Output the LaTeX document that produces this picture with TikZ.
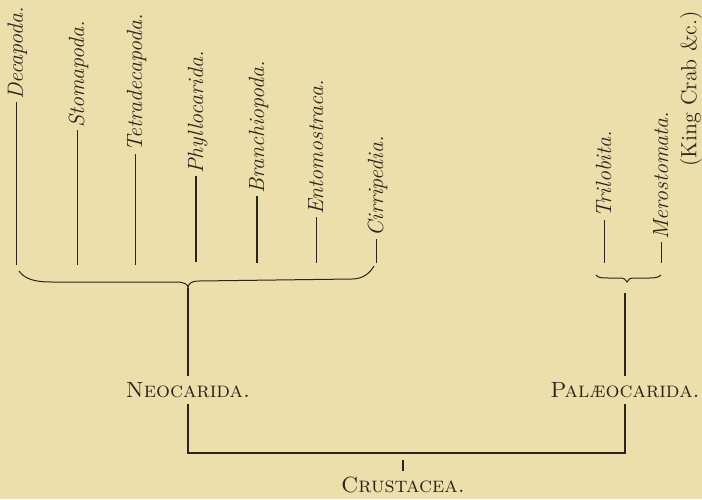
\documentclass[tikz,border=0pt]{standalone}
\definecolor{paper}{RGB}{236,223,172}
\definecolor{ink}{RGB}{42,36,26}
\begin{document}
\begin{tikzpicture}[x=0.5pt, y=-0.5pt, line width=0.5pt, ink,
  font=\fontsize{11}{13}\selectfont,
  taxon/.style={rotate=90, anchor=west, inner sep=0.8pt, text height=7pt, text depth=0pt,
    font=\fontsize{11}{13}\selectfont\itshape},
  group/.style={inner sep=3pt},
  twig/.style={line width=0.5pt},
  stem/.style={line width=0.65pt},
  brace/.style={line width=0.5pt}]
  \useasboundingbox (0,0) rectangle (702,499);
  \fill[paper] (0,0) rectangle (702,499);
  % lower ends of the twigs (on the braces) and upper ends (under the names)
  \coordinate (b1) at (16,265);  \coordinate (t1) at (16,102);
  \coordinate (b2) at (77,265);  \coordinate (t2) at (77,130);
  \coordinate (b3) at (135,265); \coordinate (t3) at (135,154);
  \coordinate (b4) at (196,262); \coordinate (t4) at (196,176);
  \coordinate (b5) at (257,263); \coordinate (t5) at (257,196);
  \coordinate (b6) at (316,263); \coordinate (t6) at (316,217);
  \coordinate (b7) at (376,263); \coordinate (t7) at (376,239);
  \coordinate (b8) at (604,263); \coordinate (t8) at (604,220);
  \coordinate (b9) at (661,263); \coordinate (t9) at (661,242);
  % braces and stems
  \coordinate (ncusp) at (188,288); \coordinate (pcusp) at (625,293);
  \coordinate (nc) at (188,453); \coordinate (pc) at (625,453);
  \coordinate (cr) at (403,460);
  \node[taxon] (deca) at (t1) {Decapoda.};
  \node[taxon] (stoma) at (t2) {Stomapoda.};
  \node[taxon] (tetra) at (t3) {Tetradecapoda.};
  \node[taxon] (phyllo) at (t4) {Phyllocarida.};
  \node[taxon] (branch) at (t5) {Branchiopoda.};
  \node[taxon] (ento) at (t6) {Entomostraca.};
  \node[taxon] (cirri) at (t7) {Cirripedia.};
  \node[taxon] (trilo) at (t8) {Trilobita.};
  \node[taxon] (mero) at (t9) {Merostomata.};
  \node[rotate=90, inner sep=0pt] (king) at (691,89) {(King Crab \&c.)};
  \node[group] (neo) at (188,390) {\textsc{Neocarida.}};
  \node[group] (palaeo) at (625,390) {\textsc{Palæocarida.}};
  \node[group] (crust) at (403,485) {\textsc{Crustacea.}};
  % twigs
  \draw[twig] (b1) -- (deca.west);
  \draw[twig] (b2) -- (stoma.west);
  \draw[twig] (b3) -- (tetra.west);
  \draw[stem] (b4) -- (phyllo.west);
  \draw[stem] (b5) -- (branch.west);
  \draw[twig] (b6) -- (ento.west);
  \draw[twig] (b7) -- (cirri.west);
  \draw[twig] (b8) -- (trilo.west);
  \draw[twig] (b9) -- (mero.west);
  % the two braces
  \draw[brace] (19,271) .. controls (25,279) and (34,282) .. (52,282) -- (176,282)
    .. controls (184,282) and (188,284) .. (ncusp)
    .. controls (188,284) and (191,281) .. (199,281) -- (352,279)
    .. controls (363,279) and (370,273) .. (374,266);
  \draw[brace] (596,275) .. controls (598,278) and (602,278) .. (609,278) -- (619,278)
    .. controls (624,278) and (626,279) .. (627,282)
    .. controls (628,279) and (630,278) .. (635,278) -- (650,278)
    .. controls (656,278) and (659,277) .. (661,275);
  % stems down to Crustacea
  \draw[stem] (ncusp) -- (neo.north);
  \draw[stem] (pcusp) -- (palaeo.north);
  \draw[stem] (neo.south) -- (nc) -- (pc) -- (palaeo.south);
  \draw[stem] (cr) -- (crust.north);
\end{tikzpicture}
\end{document}
